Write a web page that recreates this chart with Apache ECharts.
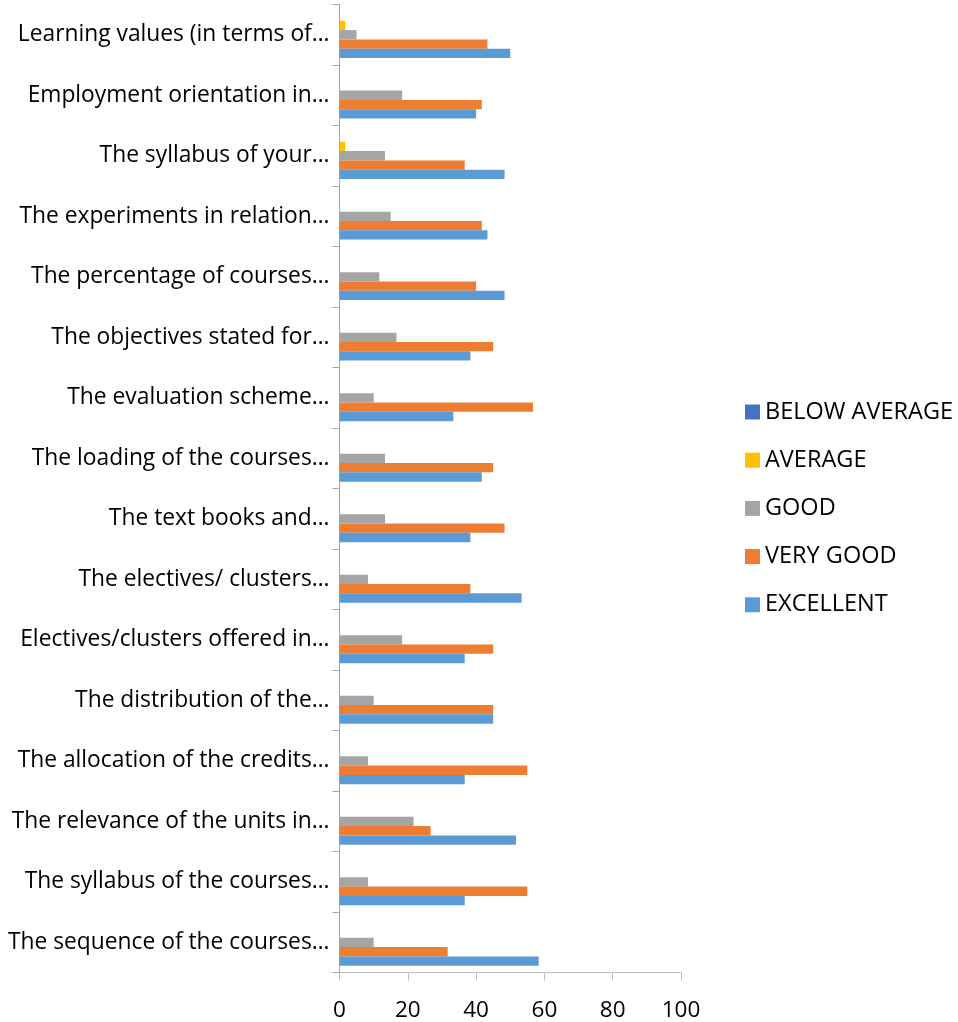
<!DOCTYPE html>
<html>
<head>
<meta charset="utf-8">
<script src="https://cdn.jsdelivr.net/npm/echarts@6/dist/echarts.min.js"></script>
<style>
html,body{margin:0;padding:0;background:#fff;}
#chart{width:958px;height:1022px;}
</style>
</head>
<body>
<div id="chart"></div>
<script>
const categories = [
  "The sequence of the courses…",
  "The syllabus of the courses…",
  "The relevance of the units in…",
  "The allocation of the credits…",
  "The distribution of the…",
  "Electives/clusters offered in…",
  "The electives/ clusters…",
  "The text books and…",
  "The loading of the courses…",
  "The evaluation scheme…",
  "The objectives stated for…",
  "The percentage of courses…",
  "The experiments in relation…",
  "The syllabus of your…",
  "Employment orientation in…",
  "Learning values (in terms of…"
];
const excellent = [58.33, 36.67, 51.67, 36.67, 45, 36.67, 53.33, 38.33, 41.67, 33.33, 38.33, 48.33, 43.33, 48.33, 40, 50];
const veryGood  = [31.67, 55, 26.67, 55, 45, 45, 38.33, 48.33, 45, 56.67, 45, 40, 41.67, 36.67, 41.67, 43.33];
const good      = [10, 8.33, 21.67, 8.33, 10, 18.33, 8.33, 13.33, 13.33, 10, 16.67, 11.67, 15, 13.33, 18.33, 5];
const average   = [0, 0, 0, 0, 0, 0, 0, 0, 0, 0, 0, 0, 0, 1.67, 0, 1.67];
const belowAverage = [0, 0, 0, 0, 0, 0, 0, 0, 0, 0, 0, 0, 0, 0, 0, 0];
const xTicks = [0, 20, 40, 60, 80, 100];

const seriesDefs = [
  {name: "BELOW AVERAGE", data: belowAverage, color: "#4472c4"},
  {name: "AVERAGE", data: average, color: "#ffc000"},
  {name: "GOOD", data: good, color: "#a5a5a5"},
  {name: "VERY GOOD", data: veryGood, color: "#ed7d31"},
  {name: "EXCELLENT", data: excellent, color: "#5b9bd5"}
];

const FONT = "Open Sans";
const chart = echarts.init(document.getElementById('chart'));
chart.setOption({
  animation: false,
  backgroundColor: '#ffffff',
  grid: {left: 339.5, right: 277, top: 4.5, bottom: 49.3, containLabel: false},
  legend: {
    orient: 'vertical',
    left: 740,
    top: 395,
    itemWidth: 15,
    itemHeight: 15,
    itemGap: 24.2,
    icon: 'rect',
    textStyle: {fontFamily: FONT, fontSize: 23.5, color: '#000', lineHeight: 23},
    data: seriesDefs.map(s => s.name)
  },
  xAxis: {
    type: 'value',
    min: xTicks[0],
    max: xTicks[xTicks.length - 1],
    interval: xTicks[1] - xTicks[0],
    axisLine: {show: true, lineStyle: {color: '#bfbfbf', width: 1}},
    axisTick: {show: true, length: 8, lineStyle: {color: '#bfbfbf'}},
    splitLine: {show: false},
    axisLabel: {fontFamily: FONT, fontSize: 22.5, color: '#000', margin: 26}
  },
  yAxis: {
    type: 'category',
    data: categories,
    axisLine: {show: true, lineStyle: {color: '#a6a6a6', width: 1}},
    axisTick: {show: true, length: 7, lineStyle: {color: '#a6a6a6'}},
    axisLabel: {fontFamily: FONT, fontSize: 22.8, color: '#000', margin: 10}
  },
  series: seriesDefs.map(s => ({
    name: s.name,
    type: 'bar',
    data: s.data,
    itemStyle: {color: s.color},
    barGap: '0%',
    barCategoryGap: '23%'
  }))
});
</script>
</body>
</html>
